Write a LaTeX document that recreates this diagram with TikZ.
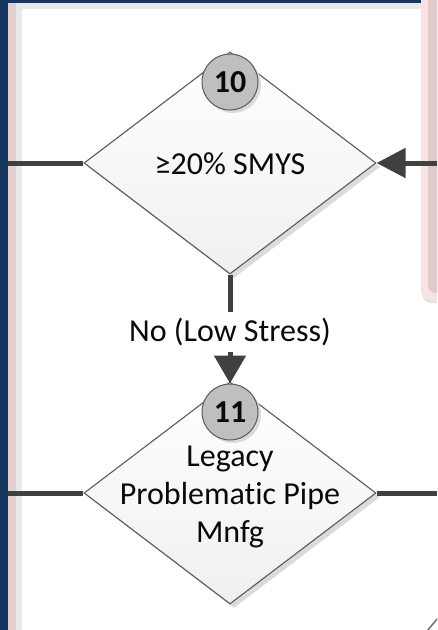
\documentclass[tikz,border=0pt]{standalone}
\usepackage{fontspec}
\setmainfont{Carlito}[Ligatures=NoCommon]
\usetikzlibrary{shapes.geometric,arrows.meta,shadows}

\definecolor{framenavy}{RGB}{23,55,94}
\definecolor{lanepink}{RGB}{229,208,208}
\definecolor{lanegray}{RGB}{232,232,232}
\definecolor{bandlight}{RGB}{248,226,226}
\definecolor{banddark}{RGB}{224,202,202}
\definecolor{edgegray}{RGB}{90,90,90}
\definecolor{flowgray}{RGB}{64,64,64}
\definecolor{numgray}{RGB}{191,191,191}
\definecolor{textdark}{RGB}{10,10,10}

\tikzset{
  decision/.style={diamond, draw=edgegray, line width=1.1pt,
    top color=white, bottom color=black!6,
    minimum width=292pt, minimum height=222pt, inner sep=0pt,
    drop shadow={shadow xshift=4pt, shadow yshift=-4pt, fill=black!14, opacity=1}},
  stepnum/.style={circle, draw=edgegray, line width=1pt, fill=numgray,
    minimum size=56pt, inner sep=0pt, text=textdark,
    font=\bfseries\fontsize{32}{36}\selectfont,
    drop shadow={shadow xshift=3pt, shadow yshift=-3pt, fill=black!14, opacity=1}},
  bodytext/.style={text=textdark, align=center, inner sep=0pt,
    font=\fontsize{32}{38}\selectfont},
  flowlabel/.style={fill=white, text=textdark, inner xsep=4pt, inner ysep=6pt,
    font=\fontsize{32}{38}\selectfont},
  flow/.style={draw=flowgray, line width=5pt},
  flowarrow/.style={flow, -{Triangle[length=28pt, width=31pt]}},
}

\begin{document}
\begin{tikzpicture}[x=1pt, y=-1pt]
\useasboundingbox (0,0) rectangle (437,630);
\clip (0,0) rectangle (437,630);

% page background and lane frame
\fill[white] (0,0) rectangle (437,630);
\fill[lanepink] (8,0) rectangle (16,630);
\fill[lanegray] (16,3) rectangle (22,630);
\fill[lanegray] (16,3) rectangle (424,9);
\fill[framenavy] (0,0) rectangle (8,630);
\fill[framenavy] (0,0) rectangle (437,3);

% neighbouring lane on the right, with its rounded end
\fill[black!10, rounded corners=9pt] (422,-20) rectangle (470,303);
\fill[bandlight, rounded corners=9pt] (421,-20) rectangle (470,299);
\fill[banddark, rounded corners=7pt] (428,-20) rectangle (470,293);

% decisions
\node[decision] (d10) at (230,163) {};
\node[decision] (d11) at (230,493) {};
\node[bodytext] (t10) at (230,164) {≥20\% SMYS};
\node[bodytext] (t11) at (230,497) {Legacy\\Problematic Pipe\\Mnfg};

% step numbers
\node[stepnum] (c10) at (230,82) {10};
\node[stepnum] (c11) at (230,412) {11};

% connector end points at the lane edges
\coordinate (l10) at (8,163);
\coordinate (r10) at (437,163);
\coordinate (l11) at (8,493);
\coordinate (r11) at (437,493);
\coordinate (g1) at (427,631);
\coordinate (g2) at (438,618);

% connectors
\draw[flow] (l10) -- (d10.west);
\draw[flowarrow, -{Triangle[length=29pt, width=29pt]}] (r10) -- (d10.east);
\draw[flowarrow] (d10.south) -- node[flowlabel, pos=0.53] (lbl) {No (Low Stress)} (c11.north);
\draw[flow] (l11) -- (d11.west);
\draw[flow] (d11.east) -- (r11);
\draw[draw=black!55, line width=1.5pt] (g1) -- (g2);
\end{tikzpicture}
\end{document}
